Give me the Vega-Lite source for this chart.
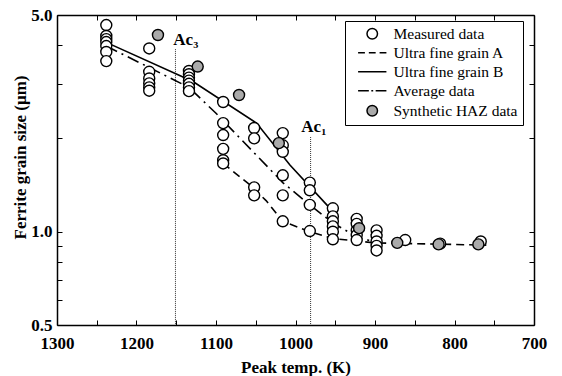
{
  "$schema": "https://vega.github.io/schema/vega-lite/v6.json",
  "width": 477,
  "height": 310,
  "autosize": {"type": "none"},
  "padding": {"left": 57, "top": 15, "right": 28, "bottom": 51},
  "background": "white",
  "config": {
    "font": "Liberation Serif",
    "view": {"stroke": null},
    "axis": {
      "labelFont": "Liberation Serif", "labelFontSize": 17, "labelFontWeight": "bold", "labelColor": "black",
      "titleFont": "Liberation Serif", "titleFontSize": 17, "titleFontWeight": "bold", "titleColor": "black",
      "domainColor": "black", "domainWidth": 1.5, "tickColor": "black", "tickWidth": 1, "tickSize": -5,
      "grid": false, "labelFlush": false, "labelOverlap": false
    }
  },
  "datasets": {
    "pts": [
      {"src": "Measured data", "T": 1238, "d": 4.64}, {"src": "Measured data", "T": 1238, "d": 4.28}, {"src": "Measured data", "T": 1238, "d": 4.18}, {"src": "Measured data", "T": 1238, "d": 4.09}, {"src": "Measured data", "T": 1238, "d": 3.97}, {"src": "Measured data", "T": 1238, "d": 3.80}, {"src": "Measured data", "T": 1238, "d": 3.55},
      {"src": "Measured data", "T": 1184, "d": 3.90}, {"src": "Measured data", "T": 1184, "d": 3.28}, {"src": "Measured data", "T": 1184, "d": 3.12}, {"src": "Measured data", "T": 1184, "d": 3.01}, {"src": "Measured data", "T": 1184, "d": 2.92}, {"src": "Measured data", "T": 1184, "d": 2.85},
      {"src": "Measured data", "T": 1134, "d": 3.30}, {"src": "Measured data", "T": 1134, "d": 3.22}, {"src": "Measured data", "T": 1134, "d": 3.14}, {"src": "Measured data", "T": 1134, "d": 3.07}, {"src": "Measured data", "T": 1134, "d": 3.00}, {"src": "Measured data", "T": 1134, "d": 2.92}, {"src": "Measured data", "T": 1134, "d": 2.84},
      {"src": "Measured data", "T": 1091, "d": 2.62}, {"src": "Measured data", "T": 1091, "d": 2.24}, {"src": "Measured data", "T": 1091, "d": 2.05}, {"src": "Measured data", "T": 1091, "d": 1.85}, {"src": "Measured data", "T": 1091, "d": 1.70}, {"src": "Measured data", "T": 1091, "d": 1.66},
      {"src": "Measured data", "T": 1052, "d": 2.16}, {"src": "Measured data", "T": 1052, "d": 2.00}, {"src": "Measured data", "T": 1052, "d": 1.39}, {"src": "Measured data", "T": 1052, "d": 1.31},
      {"src": "Measured data", "T": 1016, "d": 2.08}, {"src": "Measured data", "T": 1016, "d": 1.90}, {"src": "Measured data", "T": 1016, "d": 1.81}, {"src": "Measured data", "T": 1016, "d": 1.52}, {"src": "Measured data", "T": 1016, "d": 1.31}, {"src": "Measured data", "T": 1016, "d": 1.08},
      {"src": "Measured data", "T": 982, "d": 1.44}, {"src": "Measured data", "T": 982, "d": 1.36}, {"src": "Measured data", "T": 982, "d": 1.22}, {"src": "Measured data", "T": 982, "d": 1.005},
      {"src": "Measured data", "T": 953, "d": 1.19}, {"src": "Measured data", "T": 953, "d": 1.12}, {"src": "Measured data", "T": 953, "d": 1.08}, {"src": "Measured data", "T": 953, "d": 1.04}, {"src": "Measured data", "T": 953, "d": 1.00}, {"src": "Measured data", "T": 953, "d": 0.945},
      {"src": "Measured data", "T": 923, "d": 1.10}, {"src": "Measured data", "T": 923, "d": 1.06}, {"src": "Measured data", "T": 923, "d": 1.01}, {"src": "Measured data", "T": 923, "d": 0.975}, {"src": "Measured data", "T": 923, "d": 0.94},
      {"src": "Measured data", "T": 898, "d": 1.01}, {"src": "Measured data", "T": 898, "d": 0.97}, {"src": "Measured data", "T": 898, "d": 0.93}, {"src": "Measured data", "T": 898, "d": 0.90}, {"src": "Measured data", "T": 898, "d": 0.87},
      {"src": "Measured data", "T": 862, "d": 0.94}, {"src": "Measured data", "T": 818, "d": 0.915}, {"src": "Measured data", "T": 767, "d": 0.93},
      {"src": "Synthetic HAZ data", "T": 1173, "d": 4.31}, {"src": "Synthetic HAZ data", "T": 1123, "d": 3.41}, {"src": "Synthetic HAZ data", "T": 1071, "d": 2.76}, {"src": "Synthetic HAZ data", "T": 1021, "d": 1.93},
      {"src": "Synthetic HAZ data", "T": 920, "d": 1.026}, {"src": "Synthetic HAZ data", "T": 872, "d": 0.92}, {"src": "Synthetic HAZ data", "T": 820, "d": 0.91}, {"src": "Synthetic HAZ data", "T": 770, "d": 0.91}
    ],
    "curves": [
      {"series": "Ultra fine grain A", "T": 1091, "d": 1.66},
      {"series": "Ultra fine grain A", "T": 1058, "d": 1.42},
      {"series": "Ultra fine grain A", "T": 1037, "d": 1.26},
      {"series": "Ultra fine grain A", "T": 1016, "d": 1.08},
      {"series": "Ultra fine grain A", "T": 982, "d": 1.0},
      {"series": "Ultra fine grain A", "T": 953, "d": 0.95},
      {"series": "Ultra fine grain A", "T": 900, "d": 0.92},
      {"series": "Ultra fine grain A", "T": 760, "d": 0.905},
      {"series": "Ultra fine grain B", "T": 1238, "d": 4.08},
      {"series": "Ultra fine grain B", "T": 1129, "d": 3.05},
      {"series": "Ultra fine grain B", "T": 1049, "d": 2.24},
      {"series": "Ultra fine grain B", "T": 1007, "d": 1.64},
      {"series": "Ultra fine grain B", "T": 958, "d": 1.20},
      {"series": "Ultra fine grain B", "T": 954, "d": 1.17},
      {"series": "Average data", "T": 1238, "d": 3.97},
      {"series": "Average data", "T": 1134, "d": 2.92},
      {"series": "Average data", "T": 1100, "d": 2.41},
      {"series": "Average data", "T": 1016, "d": 1.44},
      {"series": "Average data", "T": 982, "d": 1.22},
      {"series": "Average data", "T": 953, "d": 1.067},
      {"series": "Average data", "T": 923, "d": 0.963},
      {"series": "Average data", "T": 903, "d": 0.93}
    ],
    "ac": [
      {"name": "Ac₃", "T": 1151, "top": 3.88, "lT": 1138, "ly": 4.15},
      {"name": "Ac₁", "T": 981, "top": 2.02, "lT": 977, "ly": 2.18}
    ]
  },
  "layer": [
    {
      "data": {"name": "ac"},
      "mark": {"type": "rule", "color": "#333333", "strokeWidth": 1, "strokeDash": [1, 1]},
      "encoding": {
        "x": {"field": "T", "type": "quantitative", "scale": {"domain": [700, 1300], "reverse": true, "nice": false, "zero": false}, "axis": null},
        "y": {"field": "top", "type": "quantitative", "scale": {"type": "log", "domain": [0.5, 5], "nice": false}, "axis": null},
        "y2": {"datum": 0.5}
      }
    },
    {
      "data": {"name": "ac"},
      "mark": {"type": "text", "font": "Liberation Serif", "fontSize": 17, "fontWeight": "bold", "color": "black", "align": "center", "baseline": "middle"},
      "encoding": {
        "x": {"field": "lT", "type": "quantitative", "axis": null},
        "y": {"field": "ly", "type": "quantitative", "axis": null},
        "text": {"field": "name"}
      }
    },
    {
      "data": {"name": "curves"},
      "transform": [{"filter": "datum.series == 'Ultra fine grain A'"}],
      "mark": {"type": "line", "color": "black", "strokeWidth": 1.6, "strokeDash": [8, 5]},
      "encoding": {
        "x": {"field": "T", "type": "quantitative", "axis": null},
        "y": {"field": "d", "type": "quantitative", "axis": null}
      }
    },
    {
      "data": {"name": "curves"},
      "transform": [{"filter": "datum.series == 'Ultra fine grain B'"}],
      "mark": {"type": "line", "color": "black", "strokeWidth": 1.6},
      "encoding": {
        "x": {"field": "T", "type": "quantitative", "axis": null},
        "y": {"field": "d", "type": "quantitative", "axis": null}
      }
    },
    {
      "data": {"name": "curves"},
      "transform": [{"filter": "datum.series == 'Average data'"}],
      "mark": {"type": "line", "color": "black", "strokeWidth": 1.6, "strokeDash": [12, 5, 2, 5]},
      "encoding": {
        "x": {"field": "T", "type": "quantitative", "axis": null},
        "y": {"field": "d", "type": "quantitative", "axis": null}
      }
    },
    {
      "data": {"name": "pts"},
      "mark": {"type": "point", "filled": true, "stroke": "black", "strokeWidth": 1.4, "size": 121, "opacity": 1},
      "encoding": {
        "x": {"field": "T", "type": "quantitative",
          "axis": {"orient": "bottom", "values": [1300, 1250, 1200, 1150, 1100, 1050, 1000, 950, 900, 850, 800, 750, 700],
            "labelExpr": "datum.value % 100 == 0 ? format(datum.value, 'd') : ''", "labelPadding": 15,
            "title": "Peak temp. (K)", "titleY": 47, "titleBaseline": "alphabetic"}},
        "y": {"field": "d", "type": "quantitative",
          "axis": {"orient": "left", "values": [0.5, 0.6, 0.7, 0.8, 0.9, 1, 2, 3, 4, 5],
            "labelExpr": "datum.value == 0.5 || datum.value == 1 || datum.value == 5 ? format(datum.value, '.1f') : ''", "labelPadding": 10,
            "title": "Ferrite grain size (μm)", "titleX": -37, "titleY": 142, "titleBaseline": "middle", "titleAngle": 270}},
        "fill": {"field": "src", "type": "nominal",
          "scale": {"domain": ["Measured data", "Ultra fine grain A", "Ultra fine grain B", "Average data", "Synthetic HAZ data"], "range": ["white", "white", "white", "white", "#aaaaaa"]},
          "legend": {"orient": "none", "legendX": 288, "legendY": 6, "title": null, "direction": "vertical",
            "strokeColor": "black", "fillColor": "white", "padding": 5, "rowPadding": 2,
            "labelFont": "Liberation Serif", "labelFontSize": 15.5, "labelColor": "black", "labelLimit": 300,
            "symbolSize": 110, "symbolOffset": 14.5, "labelOffset": 13.5, "symbolStrokeWidth": 1.5}},
        "shape": {"field": "src", "type": "nominal",
          "scale": {"domain": ["Measured data", "Ultra fine grain A", "Ultra fine grain B", "Average data", "Synthetic HAZ data"],
            "range": ["circle", "M-2.7,0L-1.4,0M-0.65,0L0.65,0M1.4,0L2.7,0", "M-2.7,0L2.7,0", "M-2.7,0L-0.65,0M-0.18,0L0.18,0M0.65,0L2.7,0", "circle"]},
          "legend": {"orient": "none", "legendX": 288, "legendY": 6, "title": null, "direction": "vertical",
            "strokeColor": "black", "fillColor": "white", "padding": 5, "rowPadding": 2,
            "labelFont": "Liberation Serif", "labelFontSize": 15.5, "labelColor": "black", "labelLimit": 300,
            "symbolSize": 110, "symbolOffset": 14.5, "labelOffset": 13.5, "symbolStrokeWidth": 1.5}}
      }
    },
    {
      "data": {"name": "pts"},
      "mark": {"type": "point", "opacity": 0},
      "encoding": {
        "x": {"field": "T", "type": "quantitative",
          "axis": {"orient": "top", "values": [1300, 1250, 1200, 1150, 1100, 1050, 1000, 950, 900, 850, 800, 750, 700], "labels": false, "title": null}},
        "y": {"field": "d", "type": "quantitative",
          "axis": {"orient": "right", "values": [0.5, 0.6, 0.7, 0.8, 0.9, 1, 2, 3, 4, 5], "labels": false, "title": null}}
      }
    }
  ],
  "resolve": {"axis": {"x": "independent", "y": "independent"}}
}
